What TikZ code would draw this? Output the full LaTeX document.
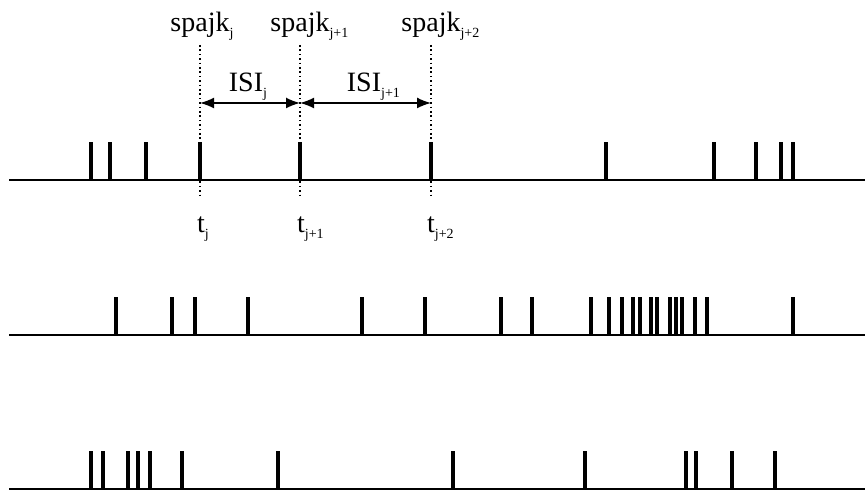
\documentclass[tikz,border=0pt]{standalone}
\usepackage{fontspec}
\setmainfont{Liberation Serif}
\usetikzlibrary{arrows.meta}

% lowered small upright index
\newcommand{\idx}[1]{\raisebox{-2.6pt}{\fontsize{7}{8}\selectfont #1}}

\begin{document}
\begin{tikzpicture}[
x=0.5pt, y=-0.5pt,
axis/.style={line width=0.7pt},
spike/.style={line width=1.6pt},
guide/.style={line width=0.6pt, dash pattern=on 0.8pt off 1.4pt},
isi/.style={line width=0.8pt, {Latex[length=7pt,width=5.5pt]}-{Latex[length=7pt,width=5.5pt]}},
lbl/.style={font=\fontsize{14}{16}\selectfont, inner sep=0pt, anchor=base}
]
\useasboundingbox (0,0) rectangle (865,491);

% three spike trains: baseline / spike times
\foreach \y/\times in {
  180/{91,110,146,200,300,431,606,714,756,781,793},
  335/{116,172,195,248,362,425,501,532,591,609,622,633,640,651,657,670,676,682,695,707,793},
  489/{91,103,128,138,150,182,278,453,585,686,696,732,775}}{
  \draw[axis] (9,\y) -- (865,\y);
  \foreach \t in \times
    \draw[spike] (\t,\y) -- (\t,\y-38);
}

% marked spikes of the first train
\coordinate (t1) at (200,180);
\coordinate (t2) at (300,180);
\coordinate (t3) at (431,180);

\node[lbl] (s1) at (200,32) {spajk\rlap{\idx{j}}};
\node[lbl] (s2) at (300,32) {spajk\rlap{\idx{j+1}}};
\node[lbl] (s3) at (431,32) {spajk\rlap{\idx{j+2}}};

\coordinate (g1) at (200,45);
\coordinate (g2) at (300,45);
\coordinate (g3) at (431,45);
\coordinate (e1) at (200,198);
\coordinate (e2) at (300,198);
\coordinate (e3) at (431,198);

\draw[guide] (g1) -- (e1);
\draw[guide] (g2) -- (e2);
\draw[guide] (g3) -- (e3);

\node[lbl] (tj) at (201,233) {t\rlap{\idx{j}}};
\node[lbl] (tj1) at (301,233) {t\rlap{\idx{j+1}}};
\node[lbl] (tj2) at (431,233) {t\rlap{\idx{j+2}}};

% inter-spike intervals
\coordinate (a1) at (200,103);
\coordinate (a2) at (300,103);
\coordinate (a3) at (431,103);
\draw[isi] (a1) -- (a2);
\draw[isi] (a2) -- (a3);

\node[lbl] (isi1) at (246,92) {ISI\rlap{\idx{j}}};
\node[lbl] (isi2) at (364,92) {ISI\rlap{\idx{j+1}}};
\end{tikzpicture}
\end{document}
